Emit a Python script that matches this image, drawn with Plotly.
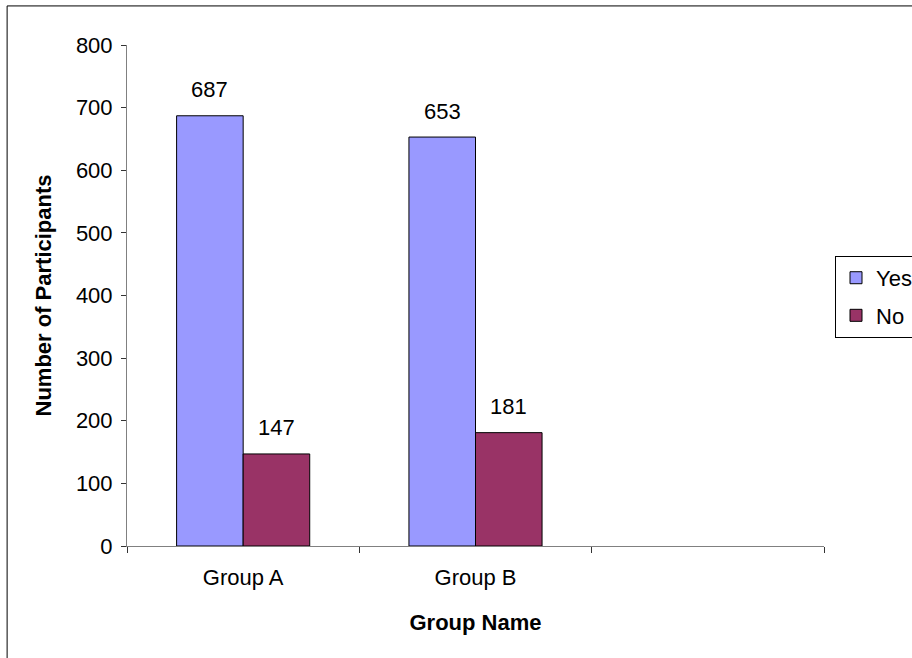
import plotly.graph_objects as go

categories = ["Group A", "Group B", " "]
groups = ["Group A", "Group B"]
yes_values = [687, 653]
no_values = [147, 181]
y_ticks = [0, 100, 200, 300, 400, 500, 600, 700, 800]

FONT = "Liberation Sans, Arial, sans-serif"
FS = 22
BARGAP = 0.427
PLOT_W = 912 - 127 - 88

fig = go.Figure()
series = [("Yes", yes_values, "#9999FF"), ("No", no_values, "#993366")]
for name, vals, color in series:
    fig.add_trace(go.Bar(
        name=name, x=groups, y=vals,
        marker=dict(color=color, line=dict(color="black", width=1)),
        legendgroup=name,
    ))

# data labels above bars (half a bar width left/right of the category centre)
bar_px = PLOT_W / len(categories) * (1 - BARGAP) / len(series)
annotations = []
for j, (name, vals, color) in enumerate(series):
    shift = (j - (len(series) - 1) / 2) * bar_px
    for g, v in zip(groups, vals):
        annotations.append(dict(
            x=g, y=v, xref="x", yref="y", text=str(v), showarrow=False,
            xshift=shift, yshift=26, yanchor="middle",
            font=dict(family=FONT, size=FS, color="black"),
        ))

fig.update_layout(
    width=912, height=658,
    margin=dict(l=127, r=88, t=45, b=112, autoexpand=False),
    paper_bgcolor="white", plot_bgcolor="white",
    font=dict(family=FONT, size=FS, color="black"),
    barmode="group", bargap=BARGAP, bargroupgap=0,
    showlegend=True,
    legend=dict(
        x=1.0158, y=0.579, xanchor="left", yanchor="top",
        bordercolor="black", borderwidth=1, bgcolor="white",
        font=dict(family=FONT, size=FS, color="black"),
        traceorder="grouped", tracegroupgap=6, itemwidth=30,
    ),
    annotations=annotations,
    xaxis=dict(
        type="category", categoryorder="array", categoryarray=categories,
        range=[-0.5, 2.5], tickmode="array", tickvals=categories, ticktext=categories,
        tickson="boundaries", ticks="outside", ticklen=6, tickcolor="#333",
        ticklabelstandoff=12,
        showline=True, linecolor="#808080", linewidth=1, showgrid=False,
        title=dict(text="<b>Group Name</b>", font=dict(family=FONT, size=FS), standoff=25),
        tickfont=dict(family=FONT, size=FS),
        automargin=False,
    ),
    yaxis=dict(
        range=[0, 800], tickmode="array", tickvals=y_ticks,
        ticks="outside", ticklen=5, tickcolor="#333", ticklabelstandoff=4,
        showline=True, linecolor="#808080", linewidth=1, showgrid=False, zeroline=False,
        title=dict(text="<b>Number of Participants</b>", font=dict(family=FONT, size=FS), standoff=18),
        tickfont=dict(family=FONT, size=FS),
        automargin=False,
    ),
    shapes=[dict(
        type="rect", xref="paper", yref="paper",
        x0=-0.172, x1=1.2, y0=-0.3, y1=1.078,
        line=dict(color="black", width=1), fillcolor="rgba(0,0,0,0)", layer="below",
    )],
)

fig.write_html("out.html")
